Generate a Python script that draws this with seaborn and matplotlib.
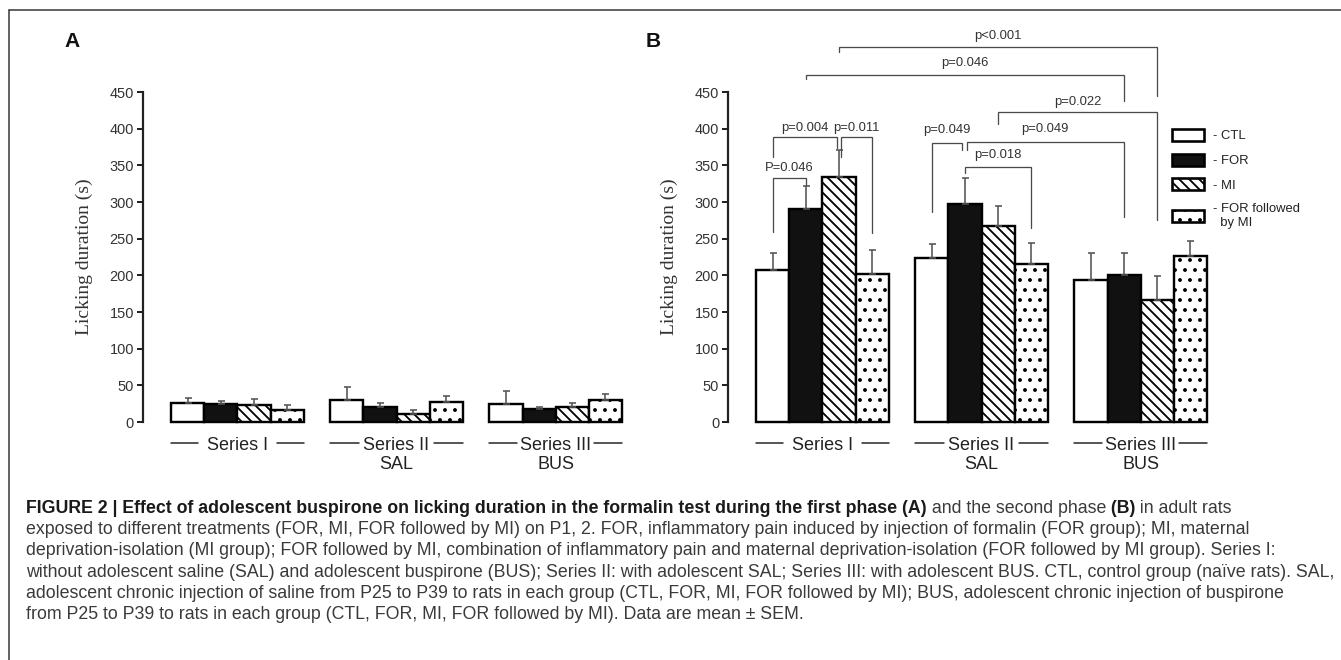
import numpy as np
import pandas as pd
import matplotlib
matplotlib.use("Agg")
import matplotlib.pyplot as plt
import seaborn as sns
from matplotlib.patches import Patch
from matplotlib.lines import Line2D

# ---------------- data ----------------
series = ["Series I", "Series II", "Series III"]
series_sub = ["", "SAL", "BUS"]
groups = ["CTL", "FOR", "MI", "FOR followed by MI"]
legend_labels = ["- CTL", "- FOR", "- MI", "- FOR followed\n  by MI"]

# Panel A (first phase): means per series (CTL, FOR, MI, FOR followed by MI)
a_series1 = [26.5, 25.1, 23.7, 16.4]
a_series2 = [30.6, 20.1, 11.4, 27.9]
a_series3 = [24.2, 17.3, 20.0, 30.0]
a_sem1 = [6.3, 3.2, 8.3, 7.3]
a_sem2 = [16.8, 5.9, 4.6, 7.6]
a_sem3 = [18.1, 3.2, 6.0, 8.0]

# Panel B (second phase)
b_series1 = [207.8, 291.0, 333.7, 201.4]
b_series2 = [223.2, 296.9, 267.3, 215.0]
b_series3 = [193.2, 200.5, 166.0, 226.0]
b_sem1 = [23.2, 30.4, 37.8, 33.6]
b_sem2 = [19.1, 35.8, 27.3, 29.1]
b_sem3 = [37.3, 30.0, 33.6, 20.4]

# significance brackets in panel B:
# text, (series, group) left, (series, group) right, bracket y, left end y, right end y, text y, left dx, right dx
brackets_b = [
    ("P=0.046", (0, 0), (0, 1), 333, 259, 323, 347, 0.0, 0.0),
    ("p=0.004", (0, 0), (0, 2), 388, 362, 373, 401, 0.0, -0.06),
    ("p=0.011", (0, 2), (0, 3), 388, 362, 258, 401, 0.06, 0.0),
    ("p=0.049", (1, 0), (1, 1), 380, 287, 371, 398, 0.0, -0.10),
    ("p=0.049", (1, 1), (2, 1), 382, 371, 280, 399, 0.05, 0.0),
    ("p=0.018", (1, 1), (1, 3), 348, 339, 264, 364, 0.0, 0.0),
    ("p=0.022", (1, 2), (2, 2), 423, 407, 275, 436, 0.0, 0.0),
    ("p=0.046", (0, 1), (2, 1), 473, 468, 438, 490, 0.0, 0.0),
    ("p<0.001", (0, 2), (2, 2), 511, 505, 444, 527, 0.0, 0.0),
]

caption_line1 = [
    ("FIGURE 2 | Effect of adolescent buspirone on licking duration in the formalin test during the first phase (A)", "bold"),
    (" and the second phase", "normal"),
    (" (B)", "bold"),
    (" in adult rats", "normal"),
]
caption_rest = [
    "exposed to different treatments (FOR, MI, FOR followed by MI) on P1, 2. FOR, inflammatory pain induced by injection of formalin (FOR group); MI, maternal",
    "deprivation-isolation (MI group); FOR followed by MI, combination of inflammatory pain and maternal deprivation-isolation (FOR followed by MI group). Series I:",
    "without adolescent saline (SAL) and adolescent buspirone (BUS); Series II: with adolescent SAL; Series III: with adolescent BUS. CTL, control group (na\u00efve rats). SAL,",
    "adolescent chronic injection of saline from P25 to P39 to rats in each group (CTL, FOR, MI, FOR followed by MI); BUS, adolescent chronic injection of buspirone",
    "from P25 to P39 to rats in each group (CTL, FOR, MI, FOR followed by MI). Data are mean \u00b1 SEM.",
]

# ---------------- style ----------------
W, H, DPI = 1341, 660, 120
sns.set_theme(style="white")
plt.rcParams["font.family"] = ["Liberation Sans", "DejaVu Sans"]
plt.rcParams["hatch.linewidth"] = 1.1


def px(v):
    return v * 72.0 / DPI


fill_colors = {"CTL": "white", "FOR": "#111111", "MI": "white", "FOR followed by MI": "white"}
hatches = ["", "", "\\\\\\\\", ".."]
DARK = "#222222"
TXT = "#333333"
GREY = "#555555"

fig = plt.figure(figsize=(W / DPI, H / DPI), dpi=DPI)
axA = fig.add_axes([143 / W, 1 - 422 / H, 497 / W, 330 / H])
axB = fig.add_axes([728 / W, 1 - 422 / H, 497 / W, 330 / H])
renderer = fig.canvas.get_renderer()


def draw_panel(ax, means, sems):
    df = pd.DataFrame({
        "series": np.repeat(series, len(groups)),
        "group": np.tile(groups, len(series)),
        "value": np.concatenate(means),
    })
    sns.barplot(data=df, x="series", y="value", hue="group", order=series, hue_order=groups,
                palette=fill_colors, edgecolor="black", linewidth=px(2.4), width=0.8333, gap=0,
                errorbar=None, legend=False, saturation=1, ax=ax)
    bars = sorted(ax.patches, key=lambda p: p.get_x())
    for i, b in enumerate(bars):
        b.set_hatch(hatches[i % 4])
        b.set_clip_on(False)
        b.set_zorder(2)
    xs = [b.get_x() + b.get_width() / 2 for b in bars]
    ys = [b.get_height() for b in bars]
    err = np.concatenate(sems)
    ax.errorbar(xs, ys, yerr=[np.zeros_like(err), err], fmt="none", ecolor=GREY,
                elinewidth=px(1.6), capsize=px(3.5), capthick=px(1.6), zorder=3, clip_on=False)

    ax.set_xlim(-0.593, 2.53)
    ax.set_ylim(0, 450)
    ax.set_yticks(range(0, 451, 50))
    ax.set_xticks([])
    ax.set_xlabel("")
    for s in ["top", "right", "bottom"]:
        ax.spines[s].set_visible(False)
    ax.spines["left"].set_linewidth(px(2.2))
    ax.spines["left"].set_color(DARK)
    ax.tick_params(axis="y", left=True, direction="out", length=px(6), width=px(2),
                   color=DARK, labelsize=px(14.5), labelcolor=TXT, pad=px(3))
    ax.set_ylabel("Licking duration (s)", fontfamily=["Liberation Serif", "DejaVu Serif"],
                  fontsize=px(19.5), color=TXT)
    ax.yaxis.set_label_coords(-50 / 497, 0.5)
    ax.patch.set_alpha(0)

    # series labels with dashes
    y_line, y_base, y_sub = -28.7, -37.7, -63.5
    gaps = [9, 4, 3]
    inv = ax.transData.inverted()
    for i, (s, sub) in enumerate(zip(series, series_sub)):
        left = bars[4 * i].get_x()
        right = bars[4 * i + 3].get_x() + bars[4 * i + 3].get_width()
        t = ax.text(i, y_base, s, ha="center", va="baseline", fontsize=px(18), color=DARK)
        bb = t.get_window_extent(renderer)
        xl = inv.transform((bb.x0 - gaps[i], 0))[0]
        xr = inv.transform((bb.x1 + gaps[i], 0))[0]
        ax.plot([left, xl], [y_line, y_line], color=DARK, lw=px(1.5), clip_on=False)
        ax.plot([xr, right], [y_line, y_line], color=DARK, lw=px(1.5), clip_on=False)
        if sub:
            ax.text(i, y_sub, sub, ha="center", va="baseline", fontsize=px(18), color=DARK)
    return bars


barsA = draw_panel(axA, [a_series1, a_series2, a_series3], [a_sem1, a_sem2, a_sem3])
barsB = draw_panel(axB, [b_series1, b_series2, b_series3], [b_sem1, b_sem2, b_sem3])


def xpos(bars, s, g, dx):
    b = bars[4 * s + g]
    return b.get_x() + b.get_width() * (0.5 + dx)


for txt, (s1, g1), (s2, g2), ytop, yl, yr, yt, dxl, dxr in brackets_b:
    x1 = xpos(barsB, s1, g1, dxl)
    x2 = xpos(barsB, s2, g2, dxr)
    axB.plot([x1, x1, x2, x2], [yl, ytop, ytop, yr], color="#4a4a4a", lw=px(1.3),
             clip_on=False, solid_joinstyle="miter", zorder=4)
    axB.text((x1 + x2) / 2, yt, txt, ha="center", va="center", fontsize=px(13), color=TXT)

# legend
handles = [Patch(facecolor=fill_colors[g], edgecolor="black", hatch=h, linewidth=px(2.6))
           for g, h in zip(groups, hatches)]
axB.legend(handles, legend_labels, loc="upper left", bbox_to_anchor=(1172 / W, 1 - 129 / H),
           bbox_transform=fig.transFigure, frameon=False, fontsize=px(13), handlelength=2.46,
           handleheight=1.05, handletextpad=0.7, labelspacing=0.86, borderpad=0, borderaxespad=0,
           labelcolor=DARK)

# panel letters
fig.text(64 / W, 1 - 46.7 / H, "A", fontsize=px(21), fontweight="bold", color="#111111", va="baseline")
fig.text(646 / W, 1 - 46.7 / H, "B", fontsize=px(21), fontweight="bold", color="#111111", va="baseline")

# frame lines
fig.add_artist(Line2D([9 / W, 1.0], [1 - 10 / H, 1 - 10 / H], color="#333333", lw=px(1.5)))
fig.add_artist(Line2D([9 / W, 9 / W], [0, 1 - 10 / H], color="#333333", lw=px(1.5)))

# caption
CAP_FAMILY = ["Liberation Sans", "DejaVu Sans"]


def text_width(s, size, weight="normal"):
    t = fig.text(0, 0, s, fontsize=size, fontfamily=CAP_FAMILY, fontweight=weight)
    w = t.get_window_extent(renderer).width
    t.remove()
    return w


probe = text_width(caption_rest[2], 10)
cap_size = 10 * (1311 / probe)
x0, base0, pitch = 26, 513, 21.2
x = x0
for s, wgt in caption_line1:
    t = fig.text(x / W, 1 - base0 / H, s, fontsize=cap_size, fontfamily=CAP_FAMILY,
                 fontweight=wgt, color="#1a1a1a" if wgt == "bold" else "#3a3a3a", va="baseline")
    bb = t.get_window_extent(renderer)
    x = bb.x1
for k, line in enumerate(caption_rest):
    fig.text(x0 / W, 1 - (base0 + pitch * (k + 1)) / H, line, fontsize=cap_size,
             fontfamily=CAP_FAMILY, color="#3a3a3a", va="baseline")

fig.savefig("out.png", dpi=DPI, facecolor="white")
